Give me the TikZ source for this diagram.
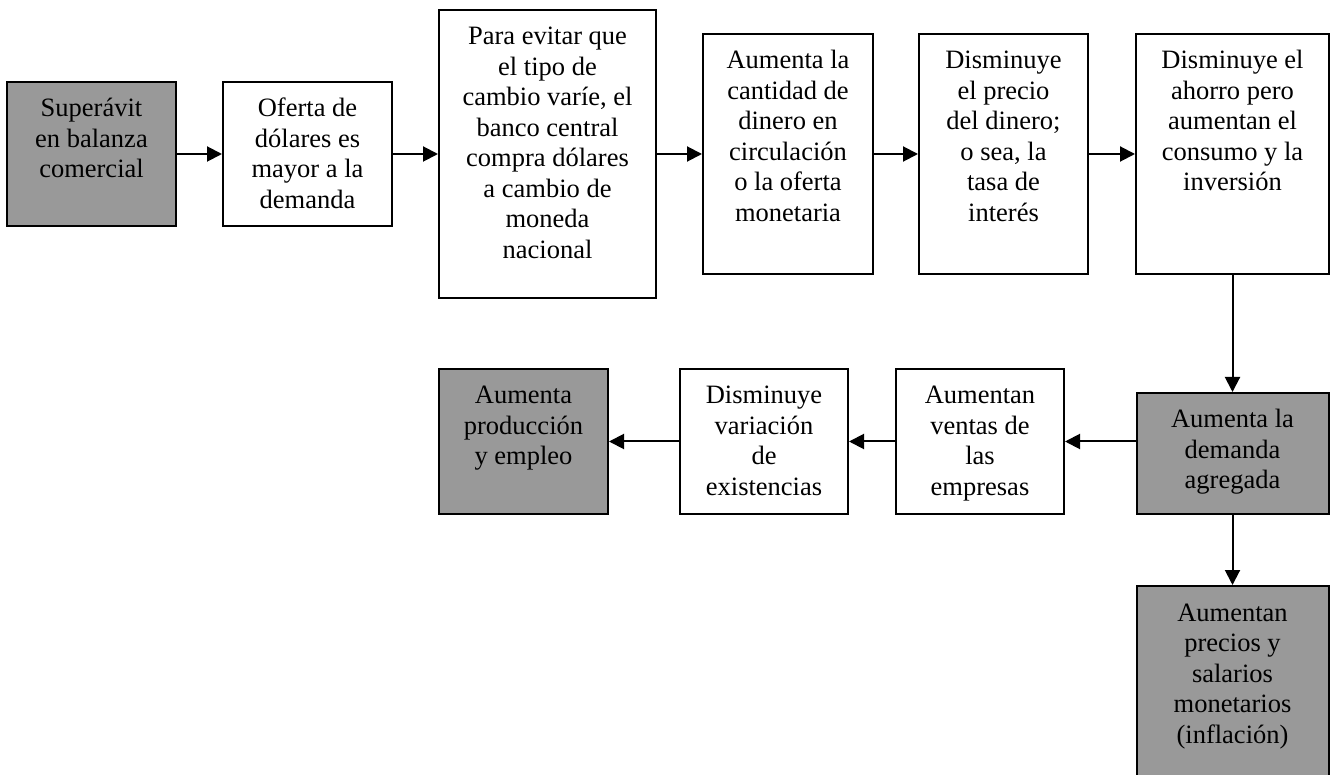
\documentclass[tikz,border=0pt]{standalone}
\usepackage{fontspec}
\setmainfont{Liberation Serif}
\usetikzlibrary{arrows.meta}
\definecolor{boxgray}{RGB}{153,153,153}
\newcommand{\boxtext}[3]{\parbox[c][#2][t]{#1}{\centering\fontsize{26.5}{30.5}\selectfont\rule{0pt}{35pt}#3\par}}
\tikzset{
  flowbox/.style={draw=black, line width=2pt, fill=white, inner sep=0pt, rectangle},
  graybox/.style={flowbox, fill=boxgray},
  arr/.style={line width=2pt, -{Triangle[length=15pt,width=15pt]}}
}
\begin{document}
\begin{tikzpicture}[x=1pt,y=-1pt]
\clip (0,0) rectangle (1334,775);
\fill[white] (0,0) rectangle (1334,775);
\node[graybox] (b1) at (91.5,154) {\boxtext{169pt}{144pt}{Superávit\\en balanza\\comercial}};
\node[flowbox] (b2) at (307.5,154) {\boxtext{169pt}{144pt}{Oferta de\\dólares es\\mayor a la\\demanda}};
\node[flowbox] (b3) at (547.5,154) {\boxtext{217pt}{288pt}{Para evitar que\\el tipo de\\cambio varíe, el\\banco central\\compra dólares\\a cambio de\\moneda\\nacional}};
\node[flowbox] (b4) at (788,154) {\boxtext{170pt}{240pt}{Aumenta la\\cantidad de\\dinero en\\circulación\\o la oferta\\monetaria}};
\node[flowbox] (b5) at (1003.5,154) {\boxtext{169pt}{240pt}{Disminuye\\el precio\\del dinero;\\o sea, la\\tasa de\\interés}};
\node[flowbox] (b6) at (1232.5,154) {\boxtext{193pt}{240pt}{Disminuye el\\ahorro pero\\aumentan el\\consumo y la\\inversión}};
\node[graybox] (b7) at (1232.5,453.5) {\boxtext{192pt}{121pt}{Aumenta la\\demanda\\agregada}};
\node[flowbox] (b8) at (980,441.5) {\boxtext{168pt}{145pt}{Aumentan\\ventas de\\las\\empresas}};
\node[flowbox] (b9) at (764,441.5) {\boxtext{168pt}{145pt}{Disminuye\\variación\\de\\existencias}};
\node[graybox] (b10) at (523.5,441.5) {\boxtext{169pt}{145pt}{Aumenta\\producción\\y empleo}};
\node[graybox] (b11) at (1232.5,703) {\boxtext{192pt}{234pt}{Aumentan\\precios y\\salarios\\monetarios\\(inflación)}};
\draw[arr] (b1) -- (b2);
\draw[arr] (b2) -- (b3);
\draw[arr] (b3) -- (b4);
\draw[arr] (b4) -- (b5);
\draw[arr] (b5) -- (b6);
\draw[arr] (b6) -- (b7);
\draw[arr] (b7.west |- b8) -- (b8);
\draw[arr] (b8) -- (b9);
\draw[arr] (b9) -- (b10);
\draw[arr] (b7) -- (b11);
\end{tikzpicture}
\end{document}
